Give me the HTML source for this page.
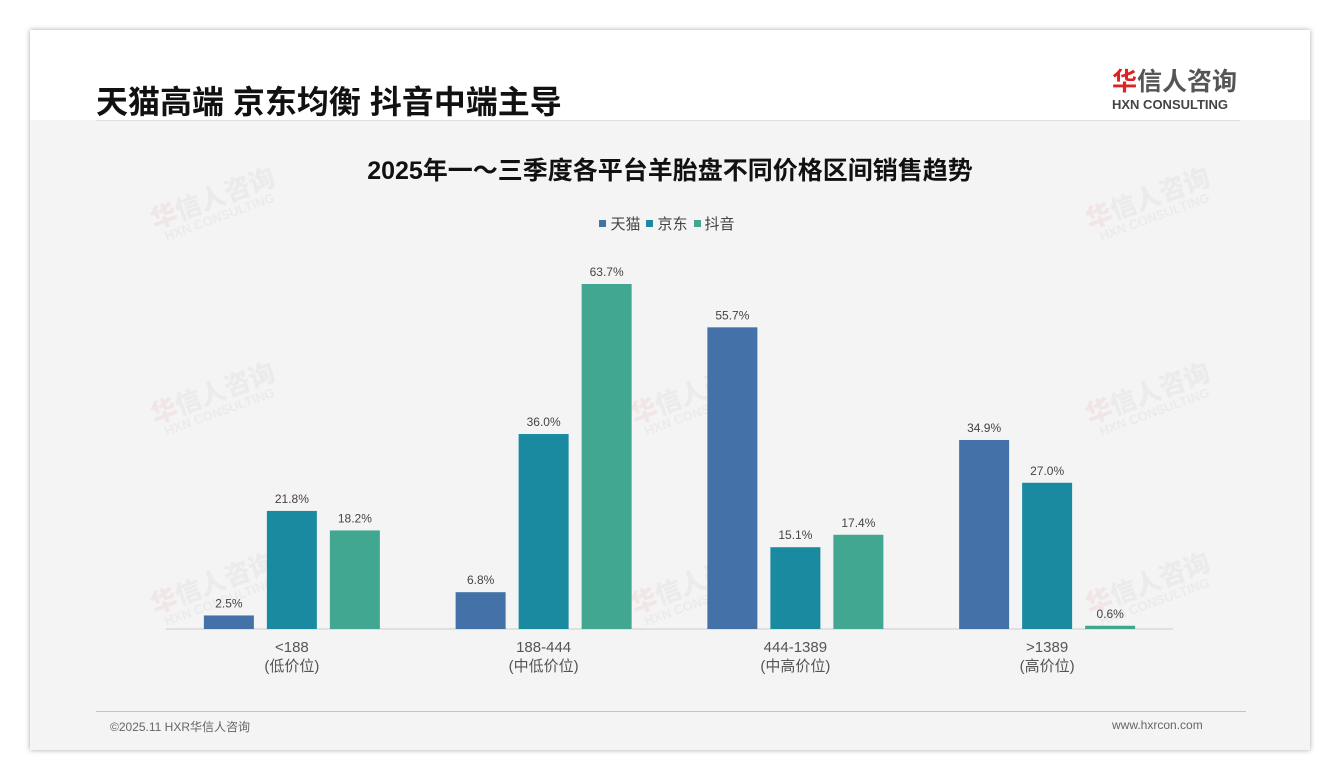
<!DOCTYPE html>
<html><head><meta charset="utf-8"><style>
body{margin:0;width:1340px;height:780px;background:#fff;position:relative;overflow:hidden;font-family:"Liberation Sans","Noto Sans CJK SC",sans-serif}
#card{position:absolute;left:30px;top:30px;width:1280px;height:720px;background:#f4f4f4;box-shadow:0 0 5px rgba(0,0,0,.35)}
#head{position:absolute;left:0;top:0;width:1280px;height:90px;background:#fff}
.wm{position:absolute;transform:rotate(-20deg);font-weight:bold;text-align:center;line-height:1;white-space:nowrap}
.wm b{display:block;font-size:26px;color:rgba(200,200,200,.2)}
.wm i{display:block;font-style:normal;font-size:13px;color:rgba(200,200,200,.2)}
</style></head><body>
<div id="card">
<div id="head"></div>
</div>
<div style="position:absolute;left:96px;top:77px;font-size:32px;font-weight:bold;color:#111;white-space:nowrap">天猫高端 京东均衡 抖音中端主导</div>
<div style="position:absolute;left:1112px;top:62px;width:140px;white-space:nowrap">
<div style="font-size:25px;font-weight:bold;color:#555;letter-spacing:0px"><span style="color:#d22">华</span>信人咨询</div>
<div style="font-size:13px;font-weight:bold;color:#444;margin-top:-1px">HXN CONSULTING</div></div>
<div style="position:absolute;left:96px;top:120px;width:1144px;height:1px;background:#ddd"></div>
<div style="position:absolute;left:0;width:1340px;top:151px;text-align:center;font-size:25px;font-weight:bold;color:#111;white-space:nowrap">2025年一～三季度各平台羊胎盘不同价格区间销售趋势</div>
<div id="wms"></div>
<div id="legend" style="position:absolute;left:0;width:1340px;top:213px;text-align:center;font-size:15px;color:#444"></div>
<svg id="chart" width="1340" height="780" style="position:absolute;left:0;top:0"></svg>
<div style="position:absolute;left:96px;top:711px;width:1150px;height:1px;background:#b0c8e6"></div>
<div style="position:absolute;left:110px;top:718px;font-size:12px;color:#666">©2025.11 HXR华信人咨询</div>
<div style="position:absolute;left:1112px;top:718px;font-size:12px;color:#666">www.hxrcon.com</div>
<script>
const categories=["<188","188-444","444-1389",">1389"];
const subLabels=["(低价位)","(中低价位)","(中高价位)","(高价位)"];
const seriesNames=["天猫","京东","抖音"];
const tmall=[2.5,6.8,55.7,34.9];
const jd=[21.8,36.0,15.1,27.0];
const douyin=[18.2,63.7,17.4,0.6];
const colors=["#4472a8","#1a8aa0","#42a791"];
const series=[tmall,jd,douyin];
const NS="http://www.w3.org/2000/svg";
const svg=document.getElementById("chart");
const x0=166,x1=1173,base=629,pxPer=5.416;
const bw=(x1-x0)/categories.length;
const y=v=>base-v*pxPer;
const xBar=(g,s)=>x0+bw*g+bw/2+(s-1)*63-25;
function mk(t,a){const e=document.createElementNS(NS,t);for(const k in a)e.setAttribute(k,a[k]);svg.appendChild(e);return e;}
const ax=mk("line",{x1:x0,x2:x1,y1:base,y2:base,stroke:"#ccc"});


series.forEach((vals,s)=>vals.forEach((v,g)=>{
 const r=mk("rect",{x:xBar(g,s),y:y(v),width:50,height:v*pxPer,fill:colors[s]});
 
 
 const t=mk("text",{x:xBar(g,s)+25,y:y(v)-8,"text-anchor":"middle","font-size":12,fill:"#444"});
 t.textContent=v.toFixed(1)+"%";
 
 
}));
categories.forEach((c,g)=>{
 const cx=x0+bw*g+bw/2;
 const t=mk("text",{x:cx,y:652,"text-anchor":"middle","font-size":15,fill:"#555"});t.textContent=c;
 
 
 const t2=mk("text",{x:cx,y:671,"text-anchor":"middle","font-size":15,fill:"#555"});t2.textContent=subLabels[g];
 
 
});
const lg=document.getElementById("legend");
seriesNames.forEach((n,i)=>{const s=document.createElement("span");
 
 
 s.style.marginRight="6px";
 s.innerHTML='<span style="display:inline-block;width:7px;height:7px;background:'+colors[i]+';margin-right:4px;vertical-align:2px"></span>'+n;lg.appendChild(s);});
const w=document.getElementById("wms");
[[150,185],[150,380],[150,570],[630,380],[630,570],[1085,185],[1085,380],[1085,570]].forEach(p=>{
 const d=document.createElement("div");d.className="wm";
 
 
 d.style.left=p[0]+"px";d.style.top=p[1]+"px";
 d.innerHTML='<b><span style="color:rgba(220,120,120,.12)">华</span>信人咨询</b><i>HXN CONSULTING</i>';w.appendChild(d);});
</script>
</body></html>
